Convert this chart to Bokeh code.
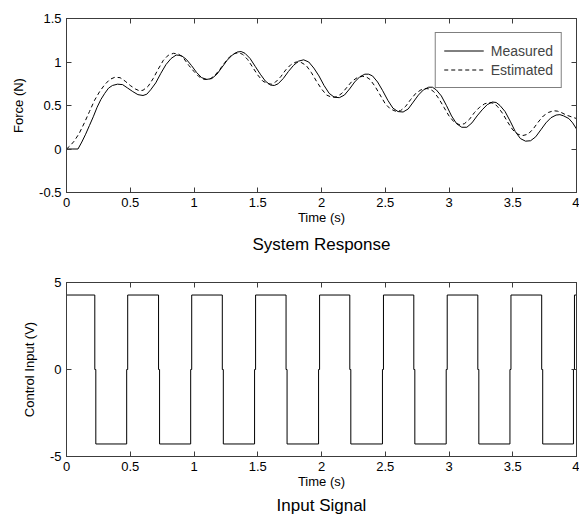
from bokeh.plotting import figure
from bokeh.layouts import column
from bokeh.models import (LinearAxis, FixedTicker, Title, Legend, LegendItem,
                          Range1d, NumeralTickFormatter)
from bokeh.embed import file_html
from bokeh.resources import INLINE

# ---------------- data ----------------
t_measured = [0.00, 0.05, 0.09, 0.12, 0.15, 0.18, 0.21, 0.24, 0.27, 0.30, 0.33, 0.36,
              0.40, 0.44, 0.48, 0.52, 0.56, 0.60, 0.63, 0.66, 0.70, 0.74, 0.78, 0.82,
              0.86, 0.90, 0.94, 0.98, 1.02, 1.06, 1.10, 1.14, 1.18, 1.22, 1.26, 1.30,
              1.34, 1.37, 1.40, 1.44, 1.48, 1.52, 1.56, 1.60, 1.63, 1.66, 1.70, 1.74,
              1.78, 1.82, 1.86, 1.90, 1.94, 1.98, 2.02, 2.06, 2.10, 2.14, 2.18, 2.22,
              2.26, 2.30, 2.34, 2.37, 2.40, 2.44, 2.48, 2.52, 2.56, 2.60, 2.64, 2.68,
              2.72, 2.76, 2.80, 2.84, 2.87, 2.90, 2.94, 2.98, 3.02, 3.06, 3.10, 3.14,
              3.18, 3.22, 3.26, 3.30, 3.34, 3.37, 3.40, 3.44, 3.48, 3.52, 3.56, 3.60,
              3.64, 3.68, 3.72, 3.76, 3.80, 3.84, 3.87, 3.90, 3.94, 3.97, 4.00]
force_measured = [0.00, 0.00, 0.00, 0.08, 0.17, 0.27, 0.37, 0.48, 0.57, 0.64, 0.70, 0.73,
                  0.745, 0.74, 0.70, 0.66, 0.625, 0.615, 0.63, 0.68, 0.76, 0.87, 0.97, 1.04,
                  1.08, 1.075, 1.03, 0.96, 0.88, 0.82, 0.80, 0.81, 0.86, 0.94, 1.02, 1.08,
                  1.115, 1.12, 1.10, 1.04, 0.95, 0.86, 0.78, 0.735, 0.73, 0.75, 0.81, 0.89,
                  0.96, 1.01, 1.025, 1.00, 0.93, 0.84, 0.73, 0.64, 0.595, 0.59, 0.62, 0.69,
                  0.77, 0.83, 0.86, 0.86, 0.84, 0.77, 0.67, 0.56, 0.47, 0.43, 0.425, 0.46,
                  0.54, 0.62, 0.68, 0.71, 0.71, 0.68, 0.61, 0.50, 0.38, 0.29, 0.25, 0.25,
                  0.30, 0.38, 0.45, 0.51, 0.54, 0.535, 0.50, 0.43, 0.32, 0.20, 0.12, 0.09,
                  0.095, 0.14, 0.22, 0.30, 0.36, 0.39, 0.395, 0.38, 0.35, 0.30, 0.23]

t_estimated = [0.00, 0.03, 0.06, 0.10, 0.14, 0.18, 0.22, 0.26, 0.30, 0.34, 0.38, 0.42,
               0.46, 0.50, 0.54, 0.57, 0.60, 0.64, 0.68, 0.72, 0.76, 0.80, 0.84, 0.88,
               0.92, 0.96, 1.00, 1.04, 1.08, 1.12, 1.16, 1.20, 1.24, 1.28, 1.32, 1.35,
               1.38, 1.42, 1.46, 1.50, 1.54, 1.58, 1.61, 1.64, 1.68, 1.72, 1.76, 1.80,
               1.84, 1.88, 1.92, 1.96, 2.00, 2.04, 2.08, 2.12, 2.16, 2.20, 2.24, 2.28,
               2.32, 2.35, 2.38, 2.42, 2.46, 2.50, 2.54, 2.58, 2.62, 2.66, 2.70, 2.74,
               2.78, 2.82, 2.85, 2.88, 2.92, 2.96, 3.00, 3.04, 3.08, 3.12, 3.16, 3.20,
               3.24, 3.28, 3.32, 3.35, 3.38, 3.42, 3.46, 3.50, 3.54, 3.58, 3.62, 3.66,
               3.70, 3.74, 3.78, 3.82, 3.85, 3.88, 3.92, 3.96, 4.00]
force_estimated = [0.00, 0.04, 0.09, 0.18, 0.30, 0.43, 0.56, 0.66, 0.74, 0.80, 0.825, 0.82,
                   0.78, 0.73, 0.69, 0.67, 0.675, 0.72, 0.81, 0.92, 1.02, 1.08, 1.10, 1.09,
                   1.04, 0.96, 0.89, 0.83, 0.80, 0.80, 0.84, 0.91, 0.99, 1.06, 1.10, 1.105,
                   1.09, 1.03, 0.94, 0.85, 0.78, 0.75, 0.745, 0.77, 0.83, 0.91, 0.97, 1.00,
                   0.995, 0.96, 0.88, 0.78, 0.69, 0.62, 0.595, 0.60, 0.64, 0.71, 0.78, 0.82,
                   0.835, 0.83, 0.80, 0.72, 0.62, 0.52, 0.46, 0.435, 0.44, 0.49, 0.57, 0.64,
                   0.68, 0.695, 0.69, 0.66, 0.58, 0.48, 0.38, 0.31, 0.28, 0.29, 0.34, 0.42,
                   0.48, 0.52, 0.535, 0.525, 0.49, 0.41, 0.31, 0.22, 0.17, 0.155, 0.17, 0.23,
                   0.31, 0.38, 0.42, 0.44, 0.435, 0.42, 0.39, 0.37, 0.35]

# square-wave control input: switching instants and the two levels
u_switch_times = [0.222, 0.472, 0.722, 0.974, 1.222, 1.475, 1.722, 1.977,
                  2.222, 2.478, 2.724, 2.978, 3.226, 3.478, 3.727, 3.976]
u_high = 4.28
u_low = -4.28
t_end = 4.0

x_ticks = [0, 0.5, 1, 1.5, 2, 2.5, 3, 3.5, 4]
force_ticks = [-0.5, 0, 0.5, 1, 1.5]
input_ticks = [-5, 0, 5]

# ---------------- styling ----------------
FONT = "Liberation Sans"
AXC = "#3c3c3c"
FS = "13px"


def build_step(switches, hi, lo, tend, hold=0.008):
    xs, ys = [0.0], [hi]
    level = hi
    for ts in switches:
        xs += [ts, ts, ts + hold]
        ys += [level, 0.0, 0.0]
        level = lo if level == hi else hi
        xs.append(ts + hold)
        ys.append(level)
    xs.append(tend)
    ys.append(level)
    return xs, ys


def make_fig(height, top, bottom, yr, yticks, ylabel, title, title_standoff):
    p = figure(width=579, height=height, output_backend="svg", toolbar_location=None,
               x_range=Range1d(0, 4), y_range=Range1d(*yr),
               min_border_left=66, min_border_right=3,
               min_border_top=top, min_border_bottom=bottom)
    p.background_fill_color = "white"
    p.border_fill_color = "white"
    p.outline_line_color = AXC
    p.outline_line_width = 1
    p.grid.visible = False

    p.add_layout(LinearAxis(), "above")
    p.add_layout(LinearAxis(), "right")

    for ax in p.xaxis:
        ax.ticker = FixedTicker(ticks=x_ticks)
    for ax in p.yaxis:
        ax.ticker = FixedTicker(ticks=yticks)
    for ax in p.axis:
        ax.formatter = NumeralTickFormatter(format="0.[0]")
        ax.axis_line_color = AXC
        ax.major_tick_line_color = AXC
        ax.major_tick_in = 5
        ax.major_tick_out = 0
        ax.minor_tick_line_color = None
        ax.major_label_text_font = FONT
        ax.major_label_text_font_size = FS
        ax.major_label_text_color = "black"
        ax.axis_label_text_font = FONT
        ax.axis_label_text_font_size = FS
        ax.axis_label_text_font_style = "normal"
        ax.axis_label_text_color = "black"

    # tick-only axes on top and right (no labels drawn)
    for ax in (p.above[0], p.right[0]):
        ax.major_label_text_color = None
        ax.major_label_standoff = 0

    p.below[0].axis_label = "Time (s)"
    p.below[0].major_label_standoff = 5
    p.below[0].axis_label_standoff = 0
    p.left[0].axis_label = ylabel
    p.left[0].major_label_standoff = 5
    p.left[0].axis_label_standoff = 10

    p.add_layout(Title(text=title, align="center", text_font=FONT,
                       text_font_size="17px", text_font_style="normal",
                       text_color="black", standoff=title_standoff), "below")
    return p


# ---------------- top: system response ----------------
p1 = make_fig(272, 18, 80, (-0.5, 1.5), force_ticks, "Force (N)", "System Response", 11)
r_meas = p1.line(t_measured, force_measured, line_color="black", line_width=1)
r_est = p1.line(t_estimated, force_estimated, line_color="black", line_width=1,
                line_dash="4 3")
legend = Legend(items=[LegendItem(label="Measured", renderers=[r_meas]),
                       LegendItem(label="Estimated", renderers=[r_est])],
                location="top_right", margin=14, padding=8, spacing=0,
                glyph_width=40, glyph_height=19, label_height=19,
                label_standoff=7,
                label_text_font=FONT, label_text_font_size="14px",
                border_line_color="black", border_line_width=1,
                background_fill_color="white", background_fill_alpha=1)
p1.add_layout(legend)

# ---------------- bottom: input signal ----------------
p2 = make_fig(246, 10, 62, (-5, 5), input_ticks, "Control Input (V)", "Input Signal", 5)
sx, sy = build_step(u_switch_times, u_high, u_low, t_end)
p2.line(sx, sy, line_color="black", line_width=1)

layout = column(p1, p2, spacing=0)
open("out.html", "w").write(file_html(layout, INLINE))
